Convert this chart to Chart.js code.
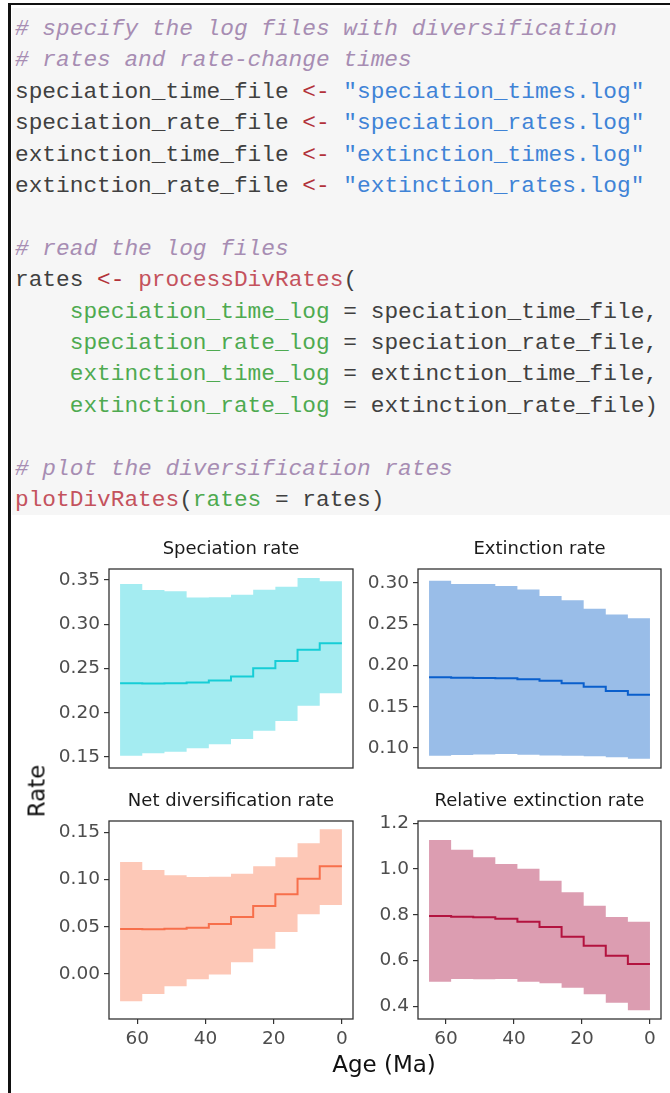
<!DOCTYPE html>
<html>
<head>
<meta charset="utf-8">
<script src="https://cdn.jsdelivr.net/npm/chart.js@4.4.1/dist/chart.umd.min.js"></script>
<style>
    body { margin: 0; width: 670px; height: 1093px; background: #fff; position: relative; overflow: hidden; }
    #frameTop { position: absolute; left: 8px; top: 3px; width: 662px; height: 2px; background: #111; }
    #frameLeft { position: absolute; left: 8px; top: 3px; width: 3px; height: 1090px; background: #111; }
    pre.code {
        position: absolute; left: 12px; top: 8px; width: 655px; height: 501px;
        margin: 0; padding: 6px 0 0 3px; background: #f6f6f6;
        font-family: "Liberation Mono", monospace; font-size: 22.8px; line-height: 31.4px;
        color: #404040;
    }
    .cm { color: #a78db3; font-style: italic; }
    .op { color: #b2323a; }
    .st { color: #3f83d6; }
    .fn { color: #c4525d; }
    .ar { color: #4eaa50; }
    canvas { position: absolute; }
    .axisTitle { position: absolute; font-family: "DejaVu Sans", sans-serif; font-size: 23px; line-height: 27px; color: #111; white-space: nowrap; }
</style>
</head>
<body>
<div id="frameTop"></div>
<div id="frameLeft"></div>
<pre class="code"><span class="cm"># specify the log files with diversification</span>
<span class="cm"># rates and rate-change times</span>
speciation_time_file <span class="op">&lt;-</span> <span class="st">"speciation_times.log"</span>
speciation_rate_file <span class="op">&lt;-</span> <span class="st">"speciation_rates.log"</span>
extinction_time_file <span class="op">&lt;-</span> <span class="st">"extinction_times.log"</span>
extinction_rate_file <span class="op">&lt;-</span> <span class="st">"extinction_rates.log"</span>

<span class="cm"># read the log files</span>
rates <span class="op">&lt;-</span> <span class="fn">processDivRates</span>(
    <span class="ar">speciation_time_log</span> = speciation_time_file,
    <span class="ar">speciation_rate_log</span> = speciation_rate_file,
    <span class="ar">extinction_time_log</span> = extinction_time_file,
    <span class="ar">extinction_rate_log</span> = extinction_rate_file)

<span class="cm"># plot the diversification rates</span>
<span class="fn">plotDivRates</span>(<span class="ar">rates</span> = rates)</pre>

<canvas id="specChart" width="330" height="250" style="left:30px;top:528px;width:330px;height:250px"></canvas>
<canvas id="extChart" width="308" height="250" style="left:360px;top:528px;width:308px;height:250px"></canvas>
<canvas id="netChart" width="330" height="279" style="left:30px;top:780px;width:330px;height:279px"></canvas>
<canvas id="relChart" width="308" height="279" style="left:360px;top:780px;width:308px;height:279px"></canvas>

<div class="axisTitle" id="rateLabel" style="left:37px;top:791px;transform:translate(-50%,-50%) rotate(-90deg);">Rate</div>
<div class="axisTitle" id="ageLabel" style="left:384px;top:1064px;transform:translate(-50%,-50%);">Age (Ma)</div>

<script>
// interval boundaries (Ma), oldest first
const ageBreaks = [65, 58.5, 52, 45.5, 39, 32.5, 26, 19.5, 13, 6.5, 0];
const ageTicks = [60, 40, 20, 0];

const speciationMedian = [0.2334, 0.2330, 0.2334, 0.2341, 0.2364, 0.2409, 0.2503, 0.2586, 0.2711, 0.2786];
const speciationUpper = [0.3454, 0.3386, 0.3374, 0.3302, 0.3306, 0.3333, 0.3389, 0.3423, 0.3521, 0.3487];
const speciationLower = [0.1515, 0.1542, 0.1560, 0.1598, 0.1644, 0.1704, 0.1798, 0.1907, 0.2080, 0.2221];
const speciationTicks = [0.15, 0.20, 0.25, 0.30, 0.35];

const extinctionMedian = [0.1857, 0.1853, 0.1849, 0.1845, 0.1833, 0.1816, 0.1784, 0.1743, 0.1691, 0.1646];
const extinctionUpper = [0.3028, 0.2988, 0.2988, 0.2964, 0.2923, 0.2842, 0.2790, 0.2689, 0.2620, 0.2572];
const extinctionLower = [0.0907, 0.0915, 0.0923, 0.0927, 0.0919, 0.0910, 0.0907, 0.0899, 0.0887, 0.0870];
const extinctionTicks = [0.10, 0.15, 0.20, 0.25, 0.30];

const netDivMedian = [0.0476, 0.0473, 0.0480, 0.0490, 0.0529, 0.0603, 0.0720, 0.0844, 0.1009, 0.1140];
const netDivUpper = [0.1186, 0.1101, 0.1045, 0.1027, 0.1030, 0.1062, 0.1140, 0.1235, 0.1384, 0.1532];
const netDivLower = [-0.0289, -0.0212, -0.0130, -0.0056, -0.0004, 0.0124, 0.0268, 0.0445, 0.0632, 0.0730];
const netDivTicks = [0.00, 0.05, 0.10, 0.15];

const relExtMedian = [0.7948, 0.7918, 0.7890, 0.7830, 0.7699, 0.7467, 0.7043, 0.6650, 0.6212, 0.5850];
const relExtUpper = [1.127, 1.0847, 1.0514, 1.022, 1.0016, 0.949, 0.8984, 0.8398, 0.7904, 0.770];
const relExtLower = [0.5076, 0.5193, 0.5180, 0.5193, 0.5076, 0.5006, 0.4814, 0.4525, 0.4158, 0.3825];
const relExtTicks = [0.4, 0.6, 0.8, 1.0, 1.2];

// one point per boundary, last value repeated to close the final step
function stepPoints(values) {
    return ageBreaks.map((age, i) => ({ x: age, y: values[Math.min(i, values.length - 1)] }));
}

const panelBox = {
    id: 'panelBox',
    afterDatasetsDraw(chart) {
        const { ctx, chartArea: a } = chart;
        ctx.save();
        ctx.strokeStyle = '#333333';
        ctx.lineWidth = 1.3;
        ctx.strokeRect(a.left, a.top, a.right - a.left, a.bottom - a.top);
        ctx.restore();
    }
};

const tickFont = { family: 'DejaVu Sans', size: 18.5 };

function makePanel(id, opts) {
    const ctx = document.getElementById(id).getContext('2d');
    return new Chart(ctx, {
        type: 'line',
        data: {
            // median first so it is painted last, on top of the band
            datasets: [
                {
                    data: stepPoints(opts.median),
                    stepped: 'before',
                    borderColor: opts.line,
                    borderWidth: 2,
                    pointRadius: 0,
                    fill: false
                },
                {
                    data: stepPoints(opts.lower),
                    stepped: 'before',
                    borderWidth: 0,
                    pointRadius: 0,
                    fill: false
                },
                {
                    data: stepPoints(opts.upper),
                    stepped: 'before',
                    borderWidth: 0,
                    pointRadius: 0,
                    backgroundColor: opts.fill,
                    fill: '-1'
                }
            ]
        },
        options: {
            responsive: false,
            animation: false,
            devicePixelRatio: 1,
            layout: { padding: { left: 0, right: 7, top: 0, bottom: opts.showX ? 0 : 10 } },
            plugins: {
                legend: { display: false },
                tooltip: { enabled: false },
                title: {
                    display: true,
                    text: opts.title,
                    fullSize: false,
                    color: '#1a1a1a',
                    font: { family: 'DejaVu Sans', size: 18, weight: 'normal' },
                    padding: { top: 10.2, bottom: 9.2 }
                }
            },
            scales: {
                x: {
                    type: 'linear',
                    reverse: true,
                    min: -3.25,
                    max: 68.25,
                    display: opts.showX,
                    afterBuildTicks: (s) => { s.ticks = ageTicks.map(v => ({ value: v })); },
                    afterFit: (s) => { s.height = opts.showX ? 40 : 0; s.paddingLeft = 0; s.paddingRight = 0; },
                    border: { display: false },
                    grid: { drawOnChartArea: false, tickLength: 5, color: '#333333', lineWidth: 1.2 },
                    ticks: { color: '#4d4d4d', font: tickFont, padding: 4, maxRotation: 0 }
                },
                y: {
                    type: 'linear',
                    min: opts.yMin,
                    max: opts.yMax,
                    afterBuildTicks: (s) => { s.ticks = opts.ticks.map(v => ({ value: v })); },
                    afterFit: (s) => { s.width = opts.yWidth; s.paddingTop = 0; s.paddingBottom = 0; },
                    border: { display: false },
                    grid: { drawOnChartArea: false, tickLength: 5, color: '#333333', lineWidth: 1.2 },
                    ticks: {
                        color: '#4d4d4d',
                        font: tickFont,
                        padding: 4,
                        callback: (v) => Number(v).toFixed(opts.decimals)
                    }
                }
            }
        },
        plugins: [panelBox]
    });
}

makePanel('specChart', {
    title: 'Speciation rate', median: speciationMedian, upper: speciationUpper, lower: speciationLower,
    ticks: speciationTicks, yMin: 0.1376, yMax: 0.3624, decimals: 2, yWidth: 79, showX: false,
    fill: '#a4ecf1', line: '#16cdd6'
});
makePanel('extChart', {
    title: 'Extinction rate', median: extinctionMedian, upper: extinctionUpper, lower: extinctionLower,
    ticks: extinctionTicks, yMin: 0.0758, yMax: 0.317, decimals: 2, yWidth: 58, showX: false,
    fill: '#99bde8', line: '#0a5fcc'
});
makePanel('netChart', {
    title: 'Net diversification rate', median: netDivMedian, upper: netDivUpper, lower: netDivLower,
    ticks: netDivTicks, yMin: -0.0476, yMax: 0.162, decimals: 2, yWidth: 79, showX: true,
    fill: '#fdc8b7', line: '#f76f4b'
});
makePanel('relChart', {
    title: 'Relative extinction rate', median: relExtMedian, upper: relExtUpper, lower: relExtLower,
    ticks: relExtTicks, yMin: 0.3445, yMax: 1.21, decimals: 1, yWidth: 58, showX: true,
    fill: '#dc9db1', line: '#b3133f'
});
</script>
</body>
</html>
